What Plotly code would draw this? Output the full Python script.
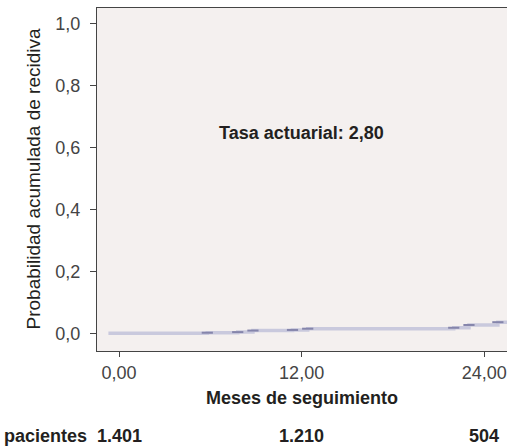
import plotly.graph_objects as go

# Data
months = [-0.7, 5.8, 7.8, 8.8, 11.4, 12.4, 22.0, 23.0, 24.9, 25.5]
cum_prob = [0.0, 0.002, 0.004, 0.009, 0.011, 0.015, 0.018, 0.027, 0.036, 0.036]
step_months = [5.8, 7.8, 8.8, 11.4, 12.4, 22.0, 23.0, 24.9]
step_prob = [0.002, 0.004, 0.009, 0.011, 0.015, 0.018, 0.027, 0.036]

x_ticks = [0, 12, 24]
y_ticks = [0, 0.2, 0.4, 0.6, 0.8, 1.0]
risk_months = [0, 12, 24]
risk_patients = ["1.401", "1.210", "504"]
rate_label = "Tasa actuarial: 2,80"

FONT = "Liberation Sans, Arial, sans-serif"
TXT = "#231f20"

fig = go.Figure()
fig.add_trace(go.Scatter(
    x=months, y=cum_prob, mode="lines", line=dict(shape="hv", color="#c9c9dd", width=3.5),
    hoverinfo="skip", showlegend=False))
fig.add_trace(go.Scatter(
    x=step_months, y=step_prob, mode="markers",
    marker=dict(symbol="line-ew-open", size=8, color="#8585ab", line=dict(color="#8585ab", width=2)),
    hoverinfo="skip", showlegend=False))

annotations = [
    dict(x=12, y=0.646, xref="x", yref="y", text="<b>" + rate_label + "</b>", showarrow=False,
         font=dict(family=FONT, size=18, color=TXT), xanchor="center", yanchor="middle"),
    dict(x=0, y=0.5, xref="paper", yref="paper", text="Probabilidad acumulada de recidiva",
         textangle=-90, showarrow=False, xanchor="center", yanchor="middle", xshift=-64,
         font=dict(family=FONT, size=19, color=TXT)),
    dict(x=12, y=0, xref="x", yref="paper", text="<b>Meses de seguimiento</b>", showarrow=False,
         xanchor="center", yanchor="middle", yshift=-46.5, font=dict(family=FONT, size=18, color=TXT)),
    dict(x=0, y=0, xref="paper", yref="paper", text="<b>pacientes</b>", showarrow=False,
         xanchor="right", yanchor="middle", xshift=-8, yshift=-85,
         font=dict(family=FONT, size=18, color=TXT)),
]
for m, p in zip(risk_months, risk_patients):
    annotations.append(dict(x=m, y=0, xref="x", yref="paper", text="<b>" + p + "</b>", showarrow=False,
                            xanchor="center", yanchor="middle", yshift=-85,
                            font=dict(family=FONT, size=18, color=TXT)))

fig.update_layout(
    width=507, height=448,
    margin=dict(l=97, r=0, t=8, b=97),
    paper_bgcolor="white", plot_bgcolor="#f4f0ef",
    separators=",.",
    annotations=annotations,
    xaxis=dict(range=[-1.45, 25.5], tickvals=x_ticks, tickformat=".2f", ticks="outside", ticklen=5,
               tickcolor="#444", showline=True, linecolor="#444", linewidth=1, mirror=True,
               showgrid=False, zeroline=False,
               tickfont=dict(family=FONT, size=18, color="#444")),
    yaxis=dict(range=[-0.057, 1.05], tickvals=y_ticks, tickformat=".1f", ticks="outside", ticklen=6,
               tickcolor="#444", showline=True, linecolor="#444", linewidth=1,
               showgrid=False, zeroline=False, ticklabelstandoff=6,
               tickfont=dict(family=FONT, size=18, color="#444")),
)

fig.write_html("out.html")
